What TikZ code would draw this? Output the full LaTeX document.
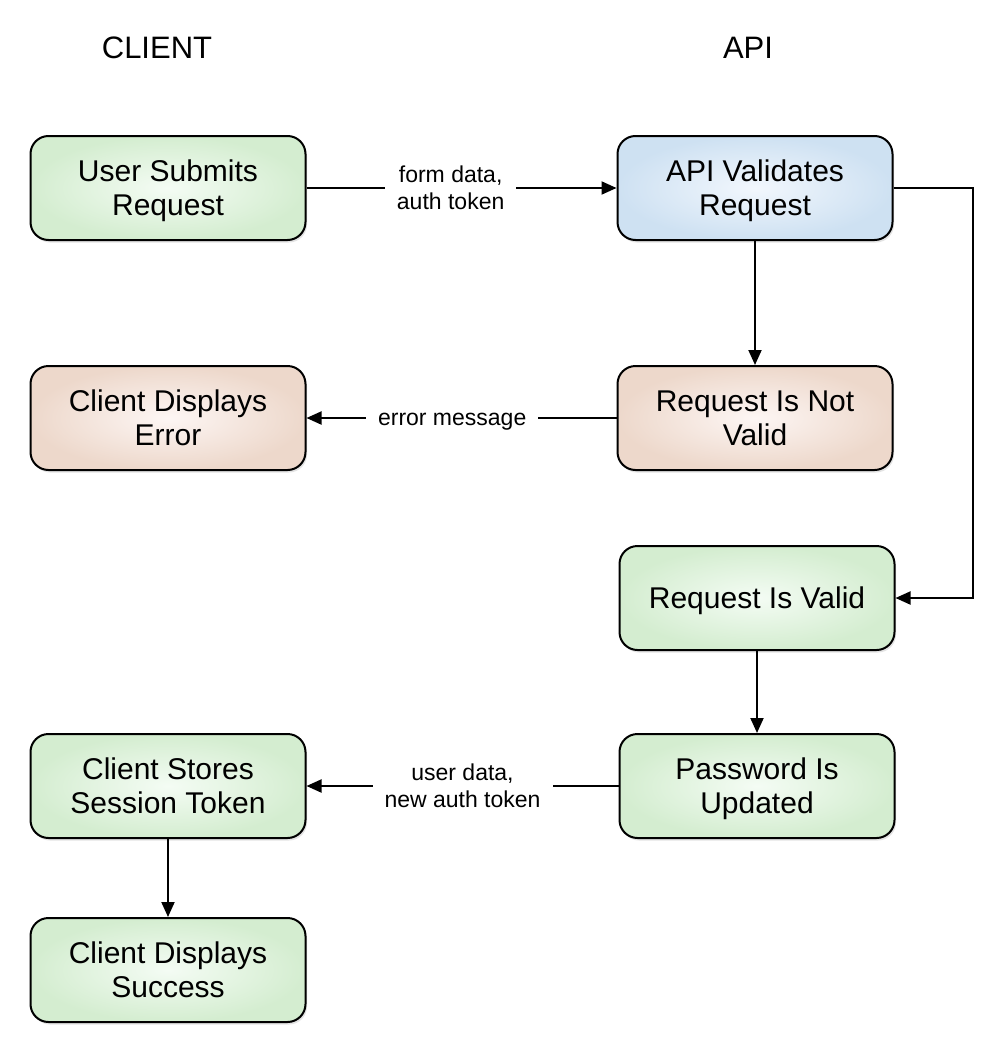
\documentclass[tikz,border=0pt]{standalone}
\usepackage{fontspec}
\setmainfont{Liberation Sans}
\usetikzlibrary{arrows.meta}
\usetikzlibrary{shadows}
\definecolor{greenout}{RGB}{212,237,208}
\definecolor{greenin}{RGB}{244,252,244}
\definecolor{blueout}{RGB}{206,225,242}
\definecolor{bluein}{RGB}{242,247,253}
\definecolor{redout}{RGB}{237,216,203}
\definecolor{redin}{RGB}{253,246,244}
\tikzset{
  box/.style={draw, line width=2pt, rounded corners=18pt, minimum width=275pt, minimum height=104pt,
    align=center, font=\fontsize{30}{34}\selectfont, text depth=0pt, shading=radial,
    drop shadow={opacity=0.22, shadow xshift=1.5pt, shadow yshift=-2.5pt}},
  greenbox/.style={box, inner color=greenin, outer color=greenout},
  bluebox/.style={box, inner color=bluein, outer color=blueout},
  redbox/.style={box, inner color=redin, outer color=redout},
  lbl/.style={fill=white, inner xsep=12pt, align=center, font=\fontsize{23}{27}\selectfont},
  arr/.style={line width=2pt, -{Triangle[length=15pt,width=13pt]}},
  head/.style={font=\fontsize{31}{34}\selectfont}
}
\begin{document}
\begin{tikzpicture}[x=1pt, y=-1pt]
        \useasboundingbox[fill=white] (0,0) rectangle (994,1060);
        % headers
        \node[head] (hclient) at (157,48) {CLIENT};
        \node[head] (hapi) at (748,48) {API};
        % client side
        \node[greenbox] (submit) at (168,188) {User Submits\\Request};
        \node[redbox] (error) at (168,418) {Client Displays\\Error};
        \node[greenbox] (store) at (168,786) {Client Stores\\Session Token};
        \node[greenbox] (success) at (168,970) {Client Displays\\Success};
        % api side
        \node[bluebox] (validate) at (755,188) {API Validates\\Request};
        \node[redbox] (invalid) at (755,418) {Request Is Not\\Valid};
        \node[greenbox] (valid) at (757,598) {Request Is Valid};
        \node[greenbox] (updated) at (757,786) {Password Is\\Updated};
        % connectors
        \draw[arr] (submit) -- node[lbl, pos=0.465] {form data,\\auth token} (validate);
        \draw[arr] (validate) -- (invalid);
        \draw[arr] (validate.east) -- ++(79,0) |- (valid);
        \draw[arr] (invalid) -- node[lbl, pos=0.53, yshift=-4pt] {error message} (error);
        \draw[arr] (valid) -- (updated);
        \draw[arr] (updated) -- node[lbl, pos=0.5] {user data,\\new auth token} (store);
        \draw[arr] (store) -- (success);
\end{tikzpicture}
\end{document}
